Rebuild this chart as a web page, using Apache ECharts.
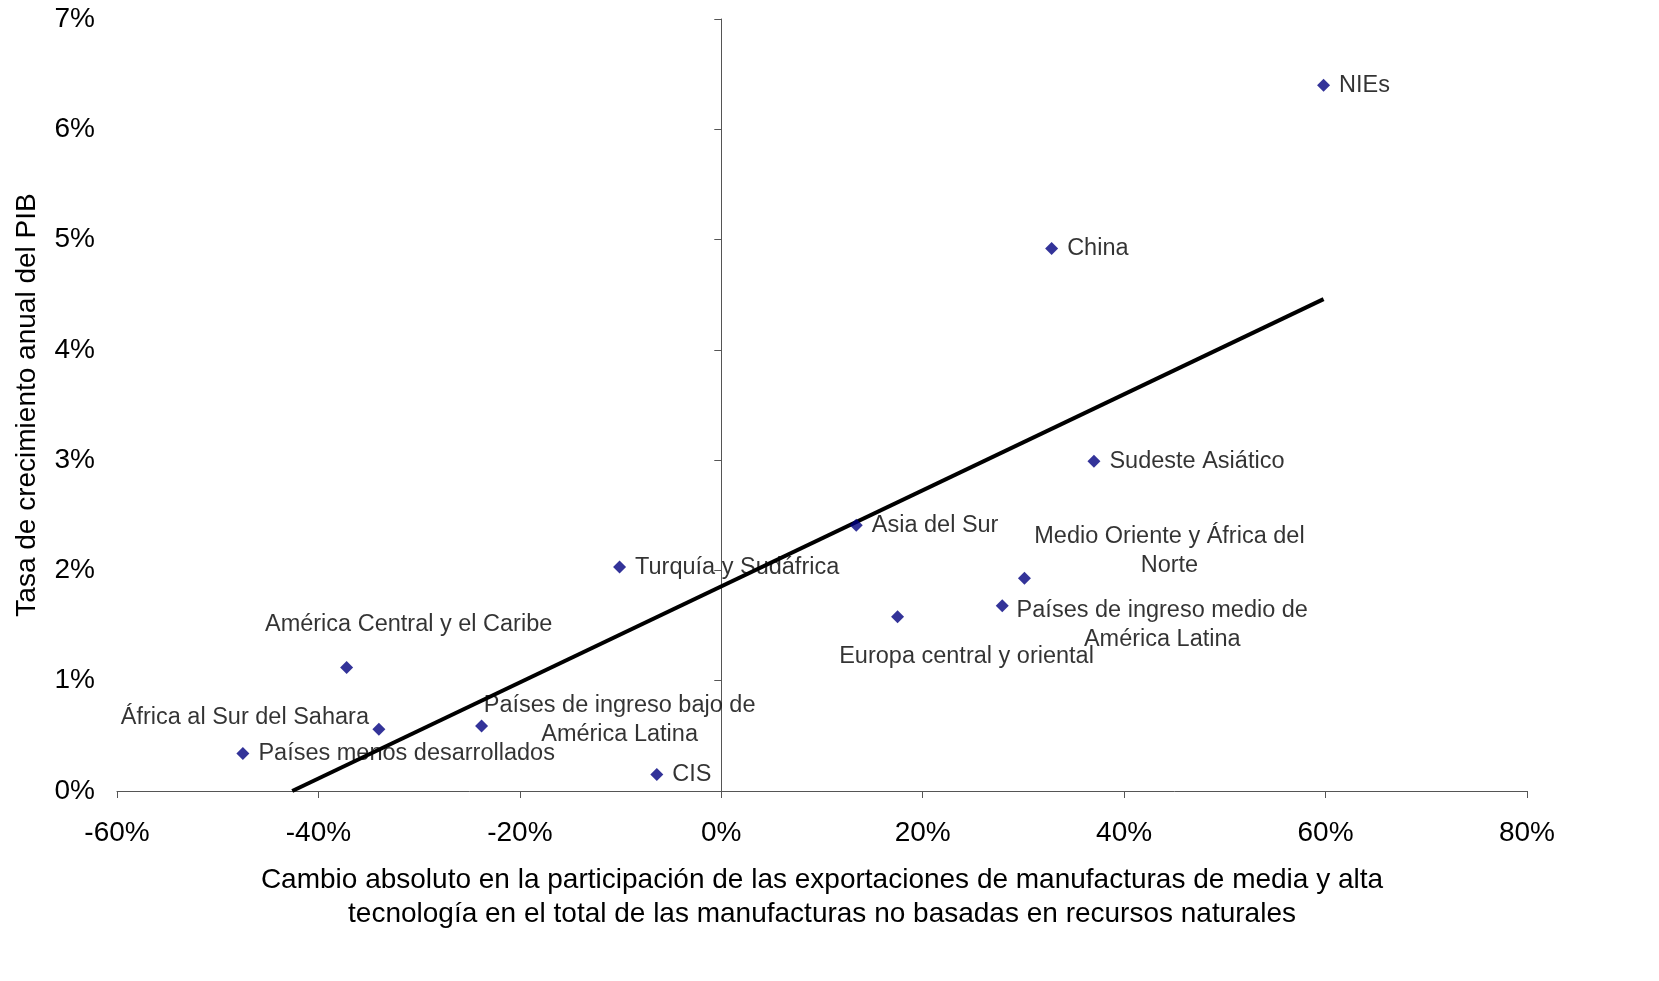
<!DOCTYPE html>
<html>
<head>
<meta charset="utf-8">
<script src="https://cdn.jsdelivr.net/npm/echarts@6/dist/echarts.min.js"></script>
<style>html,body{margin:0;padding:0;background:#fff;}#c{width:1659px;height:981px;}</style>
</head>
<body>
<div id="c"></div>
<script>
const names = ["NIEs","China","Sudeste Asiático","Asia del Sur","Medio Oriente y África del\nNorte","Países de ingreso medio de\nAmérica Latina","Europa central y oriental","Turquía y Sudáfrica","América Central y el Caribe","África al Sur del Sahara","Países de ingreso bajo de\nAmérica Latina","Países menos desarrollados","CIS"];
const xValues = [59.8, 32.8, 37.0, 13.4, 30.1, 27.9, 17.5, -10.1, -37.2, -34.0, -23.8, -47.5, -6.4];
const yValues = [6.40, 4.92, 2.99, 2.41, 1.93, 1.68, 1.58, 2.03, 1.12, 0.56, 0.59, 0.34, 0.15];
const trendX = [-42.6, 59.8];
const trendY = [0, 4.46];
const xTicks = [-60, -40, -20, 0, 20, 40, 60, 80];
const yTicks = [0, 1, 2, 3, 4, 5, 6, 7];

// label placement: 'r' = right of marker, or [dx, dy] offset of text centre
const labelPlace = ['r','r','r','r',[145,-27],[160,19],[69,40],'r',[62,-43],[-134,-12],[138,-6],'r','r'];

const FONT = 'Liberation Sans, Arial, sans-serif';
const pts = names.map((n, i) => {
  const p = labelPlace[i];
  let label;
  if (p === 'r') {
    label = {show: true, position: 'right', distance: 9, formatter: n, color: '#000'};
  } else {
    label = {show: true, position: 'inside', offset: p, align: 'center', verticalAlign: 'middle', formatter: n, color: '#000'};
  }
  return {value: [xValues[i], yValues[i]], label: label};
});

const chart = echarts.init(document.getElementById('c'));
chart.setOption({
  animation: false,
  textStyle: {fontFamily: FONT},
  grid: {left: 117, right: 132, top: 19, bottom: 190, containLabel: false},
  xAxis: {
    type: 'value', min: -60, max: 80, interval: 20,
    axisLine: {show: true, onZero: false, lineStyle: {color: '#555', width: 1}},
    axisTick: {show: true, length: 7, lineStyle: {color: '#555'}},
    splitLine: {show: false},
    axisLabel: {margin: 28, fontSize: 28, color: '#000', fontFamily: FONT, formatter: v => v + '%'},
    name: 'Cambio absoluto en la participación de las exportaciones de manufacturas de media y alta\ntecnología en el total de las manufacturas no basadas en recursos naturales',
    nameLocation: 'middle', nameGap: 72,
    nameTextStyle: {fontSize: 28, color: '#000', fontFamily: FONT, lineHeight: 34}
  },
  yAxis: [{
    type: 'value', min: 0, max: 7, interval: 1,
    axisLine: {show: false, onZero: false},
    axisTick: {show: false},
    splitLine: {show: false},
    axisLabel: {margin: 22, fontSize: 28, color: '#000', fontFamily: FONT, formatter: v => v + '%'},
    name: 'Tasa de crecimiento anual del PIB',
    nameLocation: 'middle', nameGap: 76, nameRotate: 90,
    nameTextStyle: {fontSize: 28, color: '#000', fontFamily: FONT}
  }, {
    type: 'value', min: 0, max: 7, interval: 1, position: 'left',
    axisLine: {show: true, onZero: true, lineStyle: {color: '#555', width: 1}},
    axisTick: {show: true, length: 7, lineStyle: {color: '#555'}},
    splitLine: {show: false},
    axisLabel: {show: false}
  }],
  series: [{
    type: 'line', yAxisIndex: 0,
    data: trendX.map((x, i) => [x, trendY[i]]),
    symbol: 'none',
    lineStyle: {color: '#000', width: 4},
    z: 2, silent: true
  }, {
    type: 'scatter', yAxisIndex: 0,
    symbol: 'diamond', symbolSize: 13,
    itemStyle: {color: '#000080'},
    label: {color: '#000', fontSize: 23.5, fontFamily: FONT, lineHeight: 29},
    data: pts, z: 3
  }]
});
</script>
</body>
</html>
